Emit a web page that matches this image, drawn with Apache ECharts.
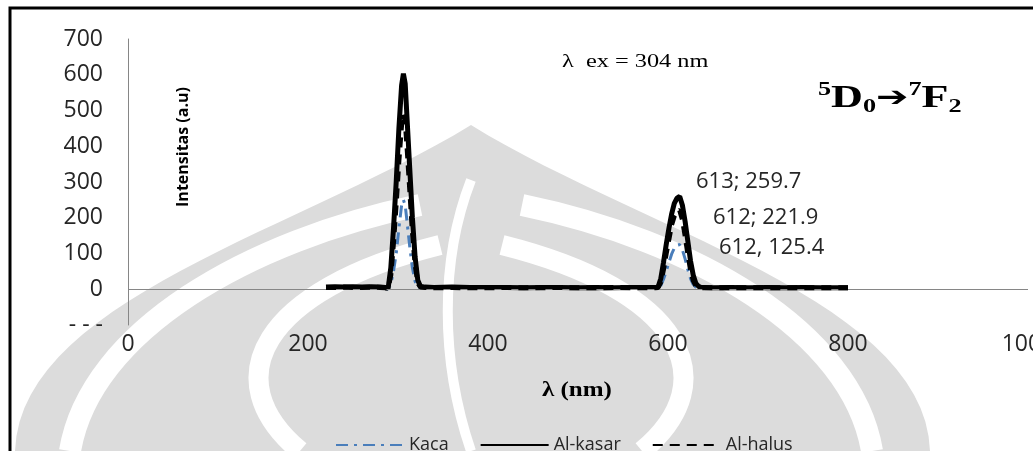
<!DOCTYPE html>
<html>
<head>
<meta charset="utf-8">
<script src="https://cdn.jsdelivr.net/npm/echarts@6/dist/echarts.min.js"></script>
<style>
html,body{margin:0;padding:0;background:#fff;}
#chart{width:1033px;height:451px;}
</style>
</head>
<body>
<div id="chart"></div>
<script>
// wavelength (nm)
const wavelength = [220,230,240,250,260,270,280,286,289,292,295,298,301,304,306,308,310,313,316,319,322,325,330,340,360,380,400,420,440,460,480,500,520,540,560,580,586,589,592,595,598,601,604,607,610,612,613,616,619,622,625,628,631,634,637,640,650,670,690,710,730,750,770,790,800];
const kaca     = [2,3,2,3,2,3,2,2,1,15,50,100,170,235,250,235,190,120,60,22,6,3,2,2,3,2,2,3,2,2,3,2,2,3,2,2,2,3,10,28,50,75,98,115,123,125.4,125,110,85,55,30,14,6,3,2,2,2,3,2,2,3,2,2,2,2];
const alKasar  = [6,7,6,7,6,7,6,5,2,60,170,300,450,570,603,575,480,340,200,90,25,8,6,5,6,5,5,5,4,5,5,4,5,4,5,5,5,6,30,75,125,170,210,240,255,257,259.7,235,190,135,80,40,16,8,5,5,4,5,4,5,4,5,4,4,4];
const alHalus  = [5,5,6,5,5,6,5,4,2,40,130,240,360,460,490,470,400,280,160,70,18,6,5,4,5,4,4,5,4,4,5,4,4,5,4,4,4,5,20,55,100,140,180,205,218,221.9,221,195,150,100,55,25,10,5,4,4,4,4,4,4,4,4,4,4,4];
const xTicks = [0,200,400,600,800,1000];
const yTicks = [-100,0,100,200,300,400,500,600,700];
const annotations = ['613; 259.7','612; 221.9','612, 125.4'];
const seriesNames = ['Kaca','Al-kasar','Al-halus'];

const pairs = arr => wavelength.map((w,i)=>[w,arr[i]]);
const chart = echarts.init(document.getElementById('chart'), null, {renderer:'canvas'});

// decorative watermark helpers
function cubicPts(p0,p1,p2,p3,n){const out=[];for(let i=0;i<=n;i++){const t=i/n,u=1-t;
  out.push([u*u*u*p0[0]+3*u*u*t*p1[0]+3*u*t*t*p2[0]+t*t*t*p3[0], u*u*u*p0[1]+3*u*u*t*p1[1]+3*u*t*t*p2[1]+t*t*t*p3[1]]);}return out;}
const wm = '#dcdcdc';
const domePts = cubicPts([15,451],[20,300],[300,230],[471,125],30).concat(cubicPts([471,125],[640,230],[925,300],[930,451],30));
function band(x1,y1,c1x,c1y,c2x,c2y,x2,y2,w){return {type:'bezierCurve',z:-9,silent:true,
  shape:{x1:x1,y1:y1,cpx1:c1x,cpy1:c1y,cpx2:c2x,cpy2:c2y,x2:x2,y2:y2},style:{fill:null,stroke:'#fff',lineWidth:w}};}

const option = {
  backgroundColor:'#fff',
  animation:false,
  grid:{left:128,right:5,top:39,bottom:126,containLabel:false,outerBoundsMode:'none'},
  xAxis:{type:'value',min:xTicks[0],max:xTicks[xTicks.length-1],interval:200,
    axisLine:{show:false},axisTick:{show:false},splitLine:{show:false},
    axisLabel:{fontFamily:'Open Sans',fontSize:23,color:'#262626',margin:8,formatter:v=>String(v),hideOverlap:false}},
  yAxis:{type:'value',min:yTicks[0],max:yTicks[yTicks.length-1],interval:100,
    axisLine:{show:true,lineStyle:{color:'#868686',width:1}},axisTick:{show:false},splitLine:{show:false},
    axisLabel:{fontFamily:'Open Sans',fontSize:23,color:'#262626',margin:25,
      formatter:v=> v===-100 ? '- - -' : String(v)}},
  legend:{data:seriesNames,left:330,top:431,itemWidth:68,itemHeight:14,itemGap:31,
    itemStyle:{opacity:0},
    textStyle:{fontFamily:'Open Sans',fontSize:18,color:'#262626'}},
  series:[
    {name:'Kaca',type:'line',data:pairs(kaca),symbol:'none',z:3,
      lineStyle:{color:'#4a7ebb',width:3,type:[12,6,3,6]},itemStyle:{color:'#4a7ebb'},
      markLine:{silent:true,symbol:'none',label:{show:false},lineStyle:{color:'#868686',width:1,type:'solid'},data:[{yAxis:0}]}},
    {name:'Al-kasar',type:'line',data:pairs(alKasar),symbol:'none',z:4,
      lineStyle:{color:'#000',width:5,type:'solid'},itemStyle:{color:'#000'}},
    {name:'Al-halus',type:'line',data:pairs(alHalus),symbol:'none',z:5,
      lineStyle:{color:'#000',width:5,type:[10,7]},itemStyle:{color:'#000'}}
  ],
  graphic:[
    {type:'polygon',z:-10,silent:true,shape:{points:domePts},style:{fill:wm}},
    band(70,451,90,330,250,240,420,205,22),
    band(872,451,852,330,692,240,522,205,22),
    band(300,451,215,380,260,290,440,245,20),
    band(642,451,727,380,682,290,502,245,20),
    band(471,180,440,260,440,360,471,451,10),
    {type:'rect',z:100,silent:true,shape:{x:10,y:8,width:1100,height:500},style:{fill:null,stroke:'#000',lineWidth:3}},
    {type:'text',z:50,x:183,y:147,rotation:Math.PI/2,style:{text:'Intensitas (a.u)',font:'bold 16px "Open Sans"',fill:'#000',textAlign:'center',textVerticalAlign:'middle'}},
    {type:'text',z:50,x:542,y:391,scaleX:1.25,style:{text:'λ (nm)',font:'bold 20px "Liberation Serif"',fill:'#000',textAlign:'left',textVerticalAlign:'middle'}},
    {type:'text',z:50,x:562,y:62,scaleX:1.28,style:{text:'λ  ex = 304 nm',font:'19px "Liberation Serif"',fill:'#000',textAlign:'left',textVerticalAlign:'middle'}},
    {type:'text',z:50,x:818,y:99,scaleX:1.38,style:{text:'{sup|5}{b|D}{sub|0}{arr|➔}{sup|7}{b|F}{sub|2}',textAlign:'left',textVerticalAlign:'middle',
      rich:{
        b:{fontFamily:'Liberation Serif',fontWeight:'bold',fontSize:32,lineHeight:36,fill:'#000'},
        arr:{fontFamily:'DejaVu Sans',fontWeight:'bold',fontSize:28,lineHeight:36,fill:'#000'},
        sup:{fontFamily:'Liberation Serif',fontWeight:'bold',fontSize:19,lineHeight:19,verticalAlign:'top',fill:'#000'},
        sub:{fontFamily:'Liberation Serif',fontWeight:'bold',fontSize:19,lineHeight:19,verticalAlign:'bottom',fill:'#000'}
      }}},
    {type:'text',z:50,x:696,y:182,style:{text:annotations[0],font:'22px "Open Sans"',fill:'#262626',textAlign:'left',textVerticalAlign:'middle'}},
    {type:'text',z:50,x:713,y:218,style:{text:annotations[1],font:'22px "Open Sans"',fill:'#262626',textAlign:'left',textVerticalAlign:'middle'}},
    {type:'text',z:50,x:719,y:248,style:{text:annotations[2],font:'22px "Open Sans"',fill:'#262626',textAlign:'left',textVerticalAlign:'middle'}}
  ]
};
chart.setOption(option);
</script>
</body>
</html>
